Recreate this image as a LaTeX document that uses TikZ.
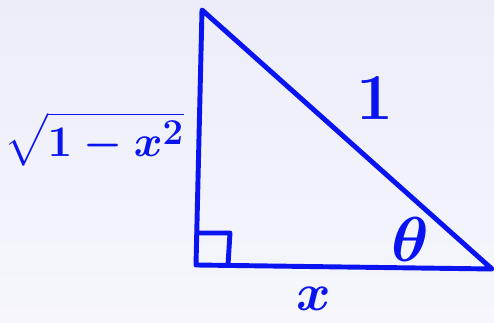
\documentclass[tikz,border=0pt]{standalone}
\usetikzlibrary{calc, backgrounds}
\usepackage{amsmath}
\usepackage{graphicx}
\usepackage{xcolor}
\definecolor{ink}{HTML}{0A14F0}
\definecolor{paperA}{HTML}{ECEDF9}
\definecolor{paperB}{HTML}{F6F6FC}

\begin{document}
\begin{tikzpicture}[
  x=0.02cm, y=-0.02cm,
  pen/.style={draw=ink, line width=2.8pt, line cap=round, line join=round},
  biglabel/.style={text=ink, font=\Huge\boldmath, inner sep=0pt},
]
\shade[top color=paperA, bottom color=paperB] (0,0) rectangle (494,323);
\useasboundingbox (0,0) rectangle (494,323);
% triangle
\coordinate (top)    at (202,10);
\coordinate (corner) at (196,265);
\coordinate (tip)    at (492,269);
\draw[pen] (top) -- (corner) -- (tip) -- cycle;
% right angle mark
\coordinate (mark) at ($(corner)+(1,-32)$);
\draw[pen] (mark) -- ++(33,0) -- ++(-2,32);
% labels
\node[biglabel] (hyp)   at (375,98)  {\scalebox{1.5}{$1$}};
\node[biglabel] (base)  at (314,299) {\scalebox{1.2}{$x$}};
\node[biglabel] (theta) at (410,239) {\scalebox{1.45}{$\theta$}};
\node[biglabel] (leg)   at (94,139)  {$\sqrt{1-x^2}$};
\end{tikzpicture}
\end{document}
